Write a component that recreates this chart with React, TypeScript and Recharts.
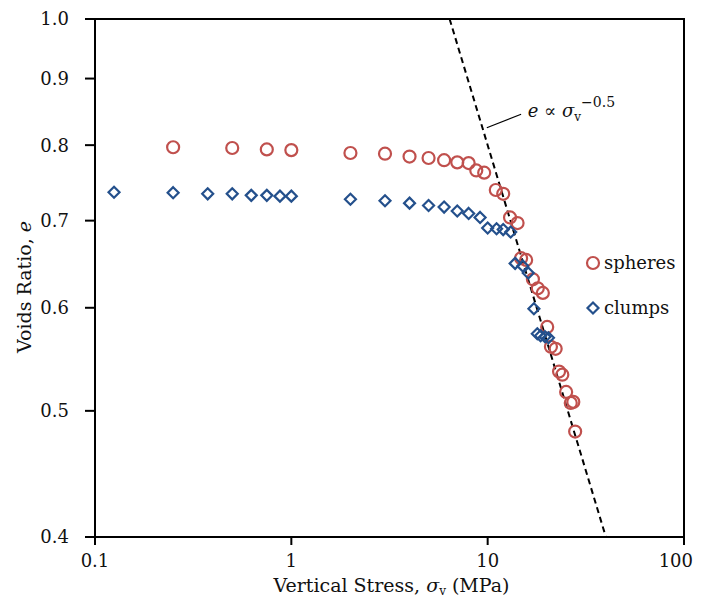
import { ScatterChart, Scatter, XAxis, YAxis, ReferenceArea, ReferenceLine, ReferenceDot, Label } from 'recharts';

const FONT = '"DejaVu Serif", serif';
const RED = '#c0504d';
const BLUE = '#24508c';

// spheres
const sphereStress = [0.25, 0.5, 0.75, 1, 2, 3, 4, 5, 6, 7, 8, 8.75, 9.6, 11, 12, 13, 14.2, 14.8, 15.7, 17, 18, 19.1, 20.1, 21, 22.2, 23.1, 24, 25.1, 26.5, 27.3, 27.9];
const sphereVoids = [0.797, 0.796, 0.794, 0.793, 0.789, 0.788, 0.784, 0.782, 0.779, 0.776, 0.775, 0.765, 0.762, 0.739, 0.734, 0.704, 0.697, 0.655, 0.653, 0.631, 0.621, 0.616, 0.58, 0.56, 0.558, 0.536, 0.533, 0.517, 0.507, 0.508, 0.482];

// clumps
const clumpStress = [0.125, 0.25, 0.375, 0.5, 0.625, 0.75, 0.875, 1, 2, 3, 4, 5, 6, 7, 8, 9.15, 10, 11.1, 12, 13.1, 13.8, 15.1, 16.1, 17.2, 17.9, 18.6, 19.6, 20.4];
const clumpVoids = [0.736, 0.7355, 0.734, 0.734, 0.732, 0.732, 0.731, 0.731, 0.727, 0.725, 0.722, 0.719, 0.717, 0.712, 0.709, 0.704, 0.691, 0.69, 0.689, 0.686, 0.649, 0.646, 0.638, 0.599, 0.573, 0.571, 0.57, 0.569];

// e ~ sigma^-0.5 guide line end points
const trendStress = [6.4, 40];
const trendVoids = [1.0, 0.4];

const xTicks = [0.1, 1, 10, 100];
const yTicks = [0.4, 0.5, 0.6, 0.7, 0.8, 0.9, 1.0];

const spheres = sphereStress.map((x, i) => ({ x, y: sphereVoids[i] }));
const clumps = clumpStress.map((x, i) => ({ x, y: clumpVoids[i] }));

const Circle = (p: any) => <circle cx={p.cx} cy={p.cy} r={6} fill="none" stroke={RED} strokeWidth={2.2} />;
const Diamond = (p: any) => (
  <path d={`M${p.cx},${p.cy - 5.5}L${p.cx + 5.5},${p.cy}L${p.cx},${p.cy + 5.5}L${p.cx - 5.5},${p.cy}Z`} fill="none" stroke={BLUE} strokeWidth={2.2} />
);

// last tick label would run past the right edge, so pull it in a little
const XTick = (p: any) => {
  const last = p.payload.value === 100;
  return (
    <text x={last ? p.x + 9 : p.x} y={p.y} dy="0.71em" textAnchor={last ? 'end' : 'middle'} fontFamily={FONT} fontSize={18} fill="#111">
      {p.payload.value}
    </text>
  );
};

const legendItems = [
  { name: 'spheres', icon: <circle cx={8} cy={8} r={6} fill="none" stroke={RED} strokeWidth={2.2} /> },
  { name: 'clumps', icon: <path d="M8,2.5L13.5,8L8,13.5L2.5,8Z" fill="none" stroke={BLUE} strokeWidth={2.2} /> },
];

export default function App() {
  // negative margin cancels the body margin so the chart fills the window
  return (
    <div style={{ position: 'relative', width: 702, height: 604, margin: -8, overflow: 'hidden' }}>
      <ScatterChart width={702} height={604} margin={{ top: 19, right: 18, left: 25, bottom: 27 }}>
        <XAxis
          dataKey="x"
          type="number"
          scale="log"
          domain={[0.1, 100]}
          ticks={xTicks}
          allowDataOverflow
          height={40}
          tickSize={8}
          tickMargin={9}
          axisLine={{ stroke: '#000', strokeWidth: 2 }}
          tickLine={{ stroke: '#000', strokeWidth: 2 }}
          tick={<XTick />}
        >
          <Label
            content={(props: any) => {
              const vb = props.viewBox;
              return (
                <text x={vb.x + vb.width / 2 + 2} y={vb.y + 55} textAnchor="middle" fontFamily={FONT} fontSize={19} fill="#111">
                  Vertical Stress, <tspan fontStyle="italic">σ</tspan>
                  <tspan fontSize={12} dy={3}>v</tspan>
                  <tspan dy={-3}> (MPa)</tspan>
                </text>
              );
            }}
          />
        </XAxis>
        <YAxis
          dataKey="y"
          type="number"
          scale="log"
          domain={[0.4, 1]}
          ticks={yTicks}
          allowDataOverflow
          width={70}
          tickSize={10}
          tickMargin={16}
          tickFormatter={(v: number) => v.toFixed(1)}
          axisLine={{ stroke: '#000', strokeWidth: 2 }}
          tickLine={{ stroke: '#000', strokeWidth: 2 }}
          tick={{ fontFamily: FONT, fontSize: 18, fill: '#111' }}
        >
          <Label
            content={() => (
              <text x={24} y={287} transform="rotate(-90 24 287)" textAnchor="middle" dominantBaseline="central" fontFamily={FONT} fontSize={19} fill="#111">
                Voids Ratio, <tspan fontStyle="italic">e</tspan>
              </text>
            )}
          />
        </YAxis>
        <ReferenceArea x1={0.1} x2={100} y1={0.4} y2={1} fill="none" stroke="#000" strokeWidth={2} />
        <ReferenceLine
          segment={[{ x: trendStress[0], y: trendVoids[0] }, { x: trendStress[1], y: trendVoids[1] }]}
          stroke="#000"
          strokeWidth={2}
          strokeDasharray="6 4"
        />
        <ReferenceLine segment={[{ x: 9.9, y: 0.825 }, { x: 14.8, y: 0.845 }]} stroke="#000" strokeWidth={1.2} />
        <ReferenceDot
          x={16}
          y={0.85}
          shape={(p: any) => (
            <text x={p.cx} y={p.cy + 6} fontFamily={FONT} fontSize={18} fill="#111">
              <tspan fontStyle="italic">e</tspan> ∝ <tspan fontStyle="italic">σ</tspan>
              <tspan fontSize={12} dy={4}>v</tspan>
              <tspan fontSize={14} dy={-14}>−0.5</tspan>
            </text>
          )}
        />
        <Scatter name="spheres" data={spheres} shape={Circle} isAnimationActive={false} />
        <Scatter name="clumps" data={clumps} shape={Diamond} isAnimationActive={false} />
      </ScatterChart>
      <div style={{ position: 'absolute', left: 585, top: 240, fontFamily: FONT, fontSize: 18, color: '#111' }}>
        {legendItems.map((it) => (
          <div key={it.name} style={{ display: 'flex', alignItems: 'center', height: 45 }}>
            <svg width={16} height={16} style={{ marginRight: 3 }}>{it.icon}</svg>
            <span>{it.name}</span>
          </div>
        ))}
      </div>
    </div>
  );
}
